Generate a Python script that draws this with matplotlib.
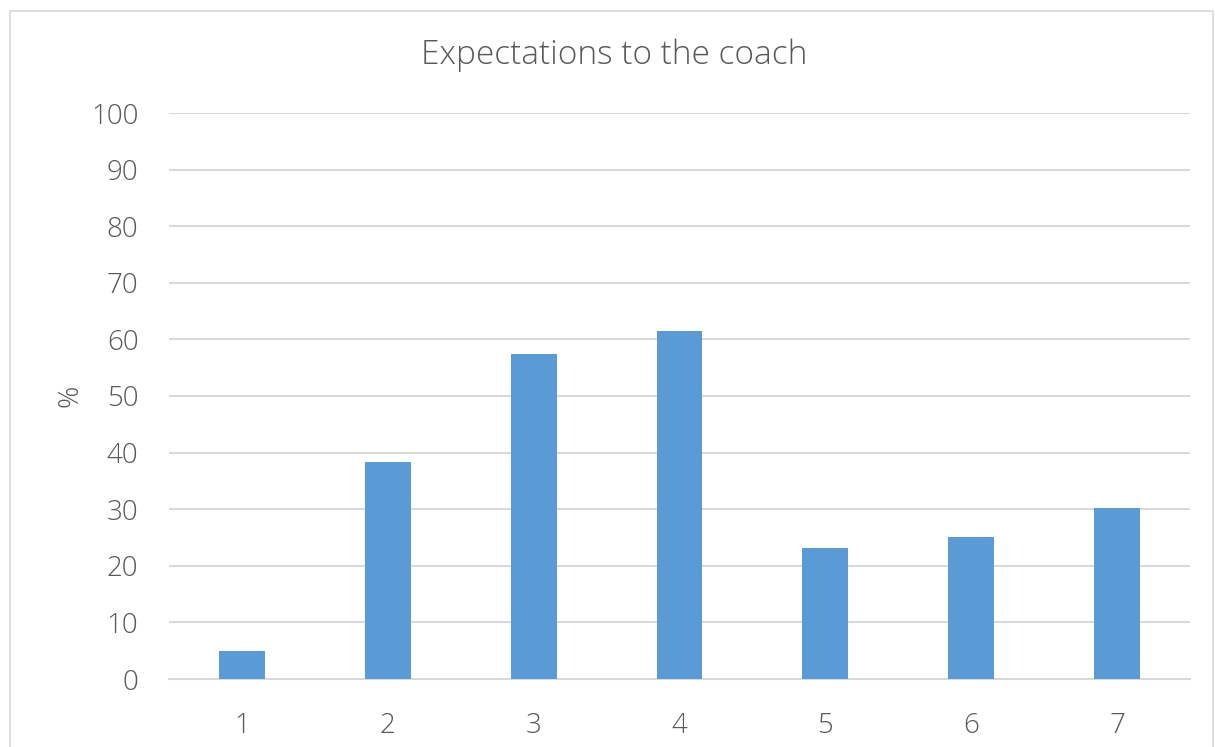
import matplotlib
matplotlib.use("Agg")
import matplotlib.pyplot as plt
from matplotlib.patches import Rectangle

# survey results, share of respondents per answer
categories = ["1", "2", "3", "4", "5", "6", "7"]
percent = [5.0, 38.4, 57.5, 61.5, 23.2, 25.1, 30.3]
y_ticks = [0, 10, 20, 30, 40, 50, 60, 70, 80, 90, 100]

plt.rcParams['font.family'] = ['Open Sans', 'DejaVu Sans']
text_color = '#595959'
grid_color = '#d9d9d9'

fig = plt.figure(figsize=(12.15, 7.47), dpi=100)
ax = fig.add_axes([169 / 1215, 1 - 679 / 747, (1190 - 169) / 1215, (679 - 113) / 747])

x = range(len(categories))
ax.bar(x, percent, width=0.315, color='#5b9bd5', zorder=3)

ax.set_xlim(-0.5, len(categories) - 0.5)
ax.set_ylim(0, 100)
ax.set_xticks(list(x))
ax.set_xticklabels(categories)
ax.set_yticks(y_ticks)

ax.grid(axis='y', color=grid_color, linewidth=1.5, zorder=0)
for side in ['top', 'right', 'left']:
    ax.spines[side].set_visible(False)
ax.spines['bottom'].set_color(grid_color)
ax.spines['bottom'].set_linewidth(1.5)
ax.tick_params(length=0, labelsize=20, colors=text_color)
ax.tick_params(axis='x', pad=24)
ax.tick_params(axis='y', pad=22)
for lbl in ax.get_xticklabels() + ax.get_yticklabels():
    lbl.set_fontweight('light')

ax.set_ylabel('%', fontsize=20, color=text_color, fontweight='light', labelpad=5)
fig.text(614 / 1215, 1 - 55 / 747, 'Expectations to the coach', fontsize=24,
         color=text_color, fontweight='light', ha='center', va='center')

# chart area border
fig.patches.append(Rectangle((10 / 1215, -0.05), 1203 / 1215, 1.05 - 11 / 747,
                             transform=fig.transFigure, fill=False,
                             edgecolor=grid_color, linewidth=1.2))

fig.savefig('out.png', dpi=100)
